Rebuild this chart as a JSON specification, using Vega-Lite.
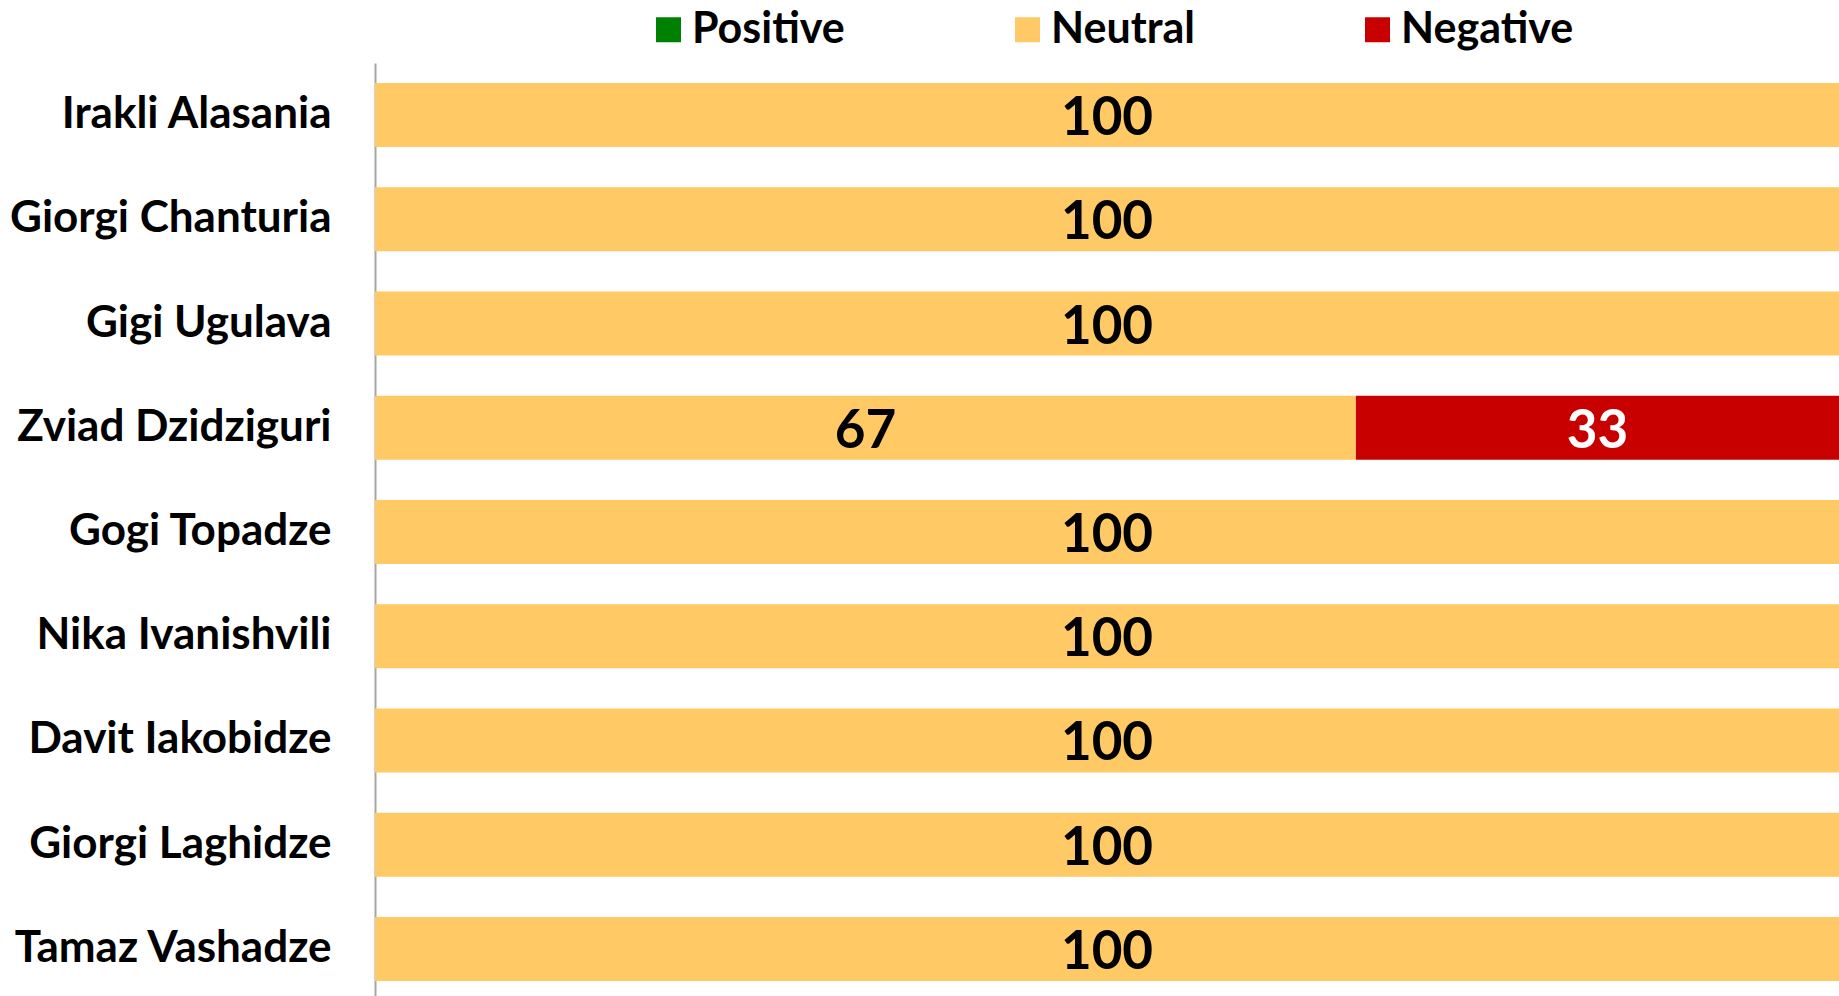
{
  "$schema": "https://vega.github.io/schema/vega-lite/v6.json",
  "width": 1464,
  "height": 938,
  "autosize": "none",
  "padding": {"left": 375, "top": 63, "right": 0, "bottom": 0},
  "background": "white",
  "config": {"view": {"stroke": null}},
  "data": {
    "values": [
      {"name": "Irakli Alasania", "sentiment": "Positive", "ord": 1, "value": 0},
      {"name": "Irakli Alasania", "sentiment": "Neutral", "ord": 2, "value": 100},
      {"name": "Irakli Alasania", "sentiment": "Negative", "ord": 3, "value": 0},
      {"name": "Giorgi Chanturia", "sentiment": "Positive", "ord": 1, "value": 0},
      {"name": "Giorgi Chanturia", "sentiment": "Neutral", "ord": 2, "value": 100},
      {"name": "Giorgi Chanturia", "sentiment": "Negative", "ord": 3, "value": 0},
      {"name": "Gigi Ugulava", "sentiment": "Positive", "ord": 1, "value": 0},
      {"name": "Gigi Ugulava", "sentiment": "Neutral", "ord": 2, "value": 100},
      {"name": "Gigi Ugulava", "sentiment": "Negative", "ord": 3, "value": 0},
      {"name": "Zviad Dzidziguri", "sentiment": "Positive", "ord": 1, "value": 0},
      {"name": "Zviad Dzidziguri", "sentiment": "Neutral", "ord": 2, "value": 67},
      {"name": "Zviad Dzidziguri", "sentiment": "Negative", "ord": 3, "value": 33},
      {"name": "Gogi Topadze", "sentiment": "Positive", "ord": 1, "value": 0},
      {"name": "Gogi Topadze", "sentiment": "Neutral", "ord": 2, "value": 100},
      {"name": "Gogi Topadze", "sentiment": "Negative", "ord": 3, "value": 0},
      {"name": "Nika Ivanishvili", "sentiment": "Positive", "ord": 1, "value": 0},
      {"name": "Nika Ivanishvili", "sentiment": "Neutral", "ord": 2, "value": 100},
      {"name": "Nika Ivanishvili", "sentiment": "Negative", "ord": 3, "value": 0},
      {"name": "Davit Iakobidze", "sentiment": "Positive", "ord": 1, "value": 0},
      {"name": "Davit Iakobidze", "sentiment": "Neutral", "ord": 2, "value": 100},
      {"name": "Davit Iakobidze", "sentiment": "Negative", "ord": 3, "value": 0},
      {"name": "Giorgi Laghidze", "sentiment": "Positive", "ord": 1, "value": 0},
      {"name": "Giorgi Laghidze", "sentiment": "Neutral", "ord": 2, "value": 100},
      {"name": "Giorgi Laghidze", "sentiment": "Negative", "ord": 3, "value": 0},
      {"name": "Tamaz Vashadze", "sentiment": "Positive", "ord": 1, "value": 0},
      {"name": "Tamaz Vashadze", "sentiment": "Neutral", "ord": 2, "value": 100},
      {"name": "Tamaz Vashadze", "sentiment": "Negative", "ord": 3, "value": 0}
    ]
  },
  "encoding": {
    "y": {
      "field": "name",
      "type": "nominal",
      "sort": null,
      "scale": {"paddingInner": 0.386, "paddingOuter": 0.193},
      "axis": {
        "title": null,
        "ticks": false,
        "domainColor": "#A6A6A6",
        "domainWidth": 2,
        "labelFont": "Lato",
        "labelFontWeight": "bold",
        "labelFontSize": 44,
        "labelColor": "#000000",
        "labelPadding": 44,
        "labelLimit": 400
      }
    },
    "x": {
      "field": "value",
      "type": "quantitative",
      "stack": "zero",
      "scale": {"domain": [0, 100]},
      "axis": null
    },
    "order": {"field": "ord", "type": "quantitative"}
  },
  "layer": [
    {
      "mark": {"type": "bar"},
      "encoding": {
        "color": {
          "field": "sentiment",
          "type": "nominal",
          "scale": {"domain": ["Positive", "Neutral", "Negative"], "range": ["#008000", "#FFC966", "#C80000"]},
          "legend": {
            "title": null,
            "orient": "none",
            "direction": "horizontal",
            "legendX": 272,
            "legendY": -55,
            "symbolType": "square",
            "symbolSize": 625,
            "symbolStrokeWidth": 0,
            "labelFont": "Lato",
            "labelFontWeight": "bold",
            "labelFontSize": 43,
            "labelColor": "#000000",
            "labelOffset": 2,
            "columnPadding": 161,
            "labelLimit": 400
          }
        }
      }
    },
    {
      "transform": [{"filter": "datum.value > 0"}],
      "mark": {"type": "text", "font": "Lato", "fontWeight": "bold", "fontSize": 53, "baseline": "middle", "align": "center", "dy": 4},
      "encoding": {
        "x": {"field": "value", "type": "quantitative", "stack": "zero", "bandPosition": 0.5},
        "text": {"field": "value", "type": "quantitative"},
        "color": {
          "condition": {"test": "datum.sentiment === 'Negative'", "value": "#FFFFFF"},
          "value": "#000000"
        }
      }
    }
  ]
}
